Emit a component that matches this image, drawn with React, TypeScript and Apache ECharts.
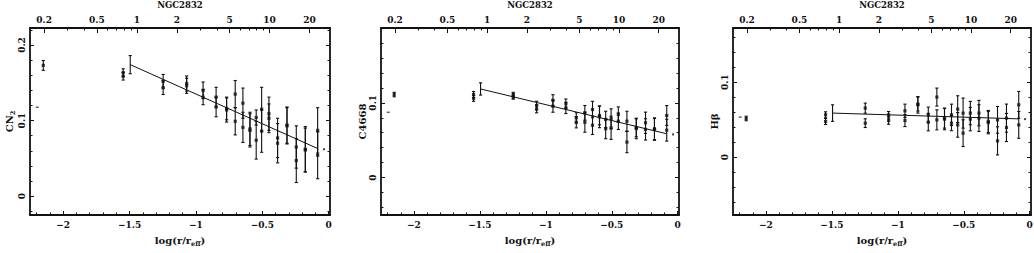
import React, { useEffect, useRef } from 'react';
import * as echarts from 'echarts';

// ---------------- data ----------------
const galaxyName = 'NGC2832';
const logReffArcsec = 1.445; // offset between bottom axis log(r/reff) and top axis log(r["])
const xRange = [-2.25, 0.01];

const bottomTicks = [-2, -1.5, -1, -0.5, 0];
const bottomMinorTicks = [-2.2, -2.1, -1.9, -1.8, -1.7, -1.6, -1.4, -1.3, -1.2, -1.1, -0.9, -0.8, -0.7, -0.6, -0.4, -0.3, -0.2, -0.1];
const topTickLabels = [0.2, 0.5, 1, 2, 5, 10, 20];
const topMinorTicks = [0.3, 0.4, 0.6, 0.7, 0.8, 0.9, 3, 4, 6, 7, 8, 9];

const radii = [-1.548, -1.247, -1.07, -0.946, -0.848, -0.769, -0.704, -0.646, -0.593, -0.546, -0.505, -0.45, -0.385, -0.314, -0.244, -0.176, -0.083];
const centreRadius = -2.15;
const apertureRadii = [-2.195, -0.035];
const fitRadii = [-1.495, -0.083];

const cn2A = [0.1635, 0.152, 0.149, 0.140, 0.131, 0.116, 0.135, 0.123, 0.089, 0.104, 0.115, 0.109, 0.077, 0.094, 0.065, 0.062, 0.087];
const cn2ErrA = [0.005, 0.009, 0.010, 0.011, 0.013, 0.015, 0.018, 0.020, 0.022, 0.010, 0.029, 0.022, 0.026, 0.024, 0.028, 0.030, 0.030];
const cn2B = [0.1586, 0.1435, 0.146, 0.131, 0.118, 0.114, 0.099, 0.091, 0.087, 0.074, 0.086, 0.103, 0.070, 0.093, 0.047, 0.061, 0.054];
const cn2ErrB = [0.005, 0.009, 0.010, 0.010, 0.013, 0.016, 0.018, 0.020, 0.022, 0.025, 0.028, 0.019, 0.026, 0.024, 0.029, 0.029, 0.031];
const cn2Centre = [0.173, 0.0065];
const cn2Aperture = [0.1176, 0.062];
const cn2Fit = [0.174, 0.063];
const cn2FitErr = 0.012;

const c4668A = [0.111, 0.1096, 0.0963, 0.1033, 0.0989, 0.080, 0.0866, 0.091, 0.083, 0.0777, 0.0786, 0.0843, 0.0754, 0.0666, 0.0733, 0.0653, 0.083];
const c4668ErrA = [0.004, 0.0044, 0.0058, 0.0075, 0.0062, 0.0067, 0.0098, 0.011, 0.0124, 0.011, 0.0133, 0.0102, 0.0133, 0.012, 0.0142, 0.0146, 0.0133];
const c4668B = [0.106, 0.1087, 0.0919, 0.0954, 0.0932, 0.074, 0.074, 0.070, 0.0813, 0.0653, 0.0666, 0.0754, 0.0475, 0.0657, 0.0644, 0.0644, 0.0634];
const c4668ErrB = [0.004, 0.0036, 0.0053, 0.008, 0.0075, 0.0075, 0.0133, 0.0124, 0.0146, 0.0133, 0.0155, 0.011, 0.0142, 0.0137, 0.0142, 0.0146, 0.0146];
const c4668Centre = [0.111, 0.003];
const c4668Aperture = [0.0874, 0.0577];
const c4668Fit = [0.1185, 0.0586];
const c4668FitErr = 0.0082;

const hbetaA = [0.0564, 0.0653, 0.0564, 0.0617, 0.0707, 0.0564, 0.080, 0.052, 0.0564, 0.064, 0.0587, 0.0587, 0.0587, 0.0475, 0.0497, 0.052, 0.0697];
const hbetaErrA = [0.004, 0.0067, 0.0044, 0.0089, 0.0093, 0.0102, 0.012, 0.0133, 0.0142, 0.0178, 0.02, 0.0156, 0.0169, 0.0147, 0.0178, 0.0187, 0.0178];
const hbetaB = [0.0475, 0.0453, 0.0488, 0.0488, 0.0697, 0.0467, 0.0497, 0.0507, 0.0453, 0.043, 0.032, 0.0507, 0.052, 0.0461, 0.0217, 0.0395, 0.043];
const hbetaErrB = [0.004, 0.0058, 0.005, 0.008, 0.011, 0.0116, 0.0133, 0.0142, 0.01, 0.0164, 0.0178, 0.0156, 0.0178, 0.015, 0.0187, 0.0187, 0.0178];
const hbetaCentre = [0.0515, 0.003];
const hbetaAperture = [0.0533, 0.0507];
const hbetaFit = [0.0587, 0.051];
const hbetaFitErr = 0.011;

// ---------------- layout / style ----------------
const ink = '#111111';
const serif = '"DejaVu Serif", "Liberation Serif", serif';
const tickFont = { fontFamily: serif, fontSize: 9, fontWeight: 'bold' as const, color: ink };

const panels = [
  { left: 30, width: 300, yMin: -0.025, yMax: 0.2225, yMajor: [0, 0.1, 0.2], yName: '{n|CN}{s|2}',
    a: cn2A, ea: cn2ErrA, b: cn2B, eb: cn2ErrB, centre: cn2Centre, aperture: cn2Aperture, fit: cn2Fit, fitErr: cn2FitErr },
  { left: 381, width: 298, yMin: -0.05, yMax: 0.2, yMajor: [0, 0.1], yName: '{n|C4668}',
    a: c4668A, ea: c4668ErrA, b: c4668B, eb: c4668ErrB, centre: c4668Centre, aperture: c4668Aperture, fit: c4668Fit, fitErr: c4668FitErr },
  { left: 733, width: 298, yMin: -0.077, yMax: 0.172, yMajor: [0, 0.1], yName: '{n|Hβ}',
    a: hbetaA, ea: hbetaErrA, b: hbetaB, eb: hbetaErrB, centre: hbetaCentre, aperture: hbetaAperture, fit: hbetaFit, fitErr: hbetaFitErr },
];
const gridTop = 28;
const gridHeight = 187;

function minorY(min: number, max: number, major: number[]) {
  const out: number[] = [];
  for (let k = Math.ceil(min / 0.02 - 1e-9); k * 0.02 <= max + 1e-9; k++) {
    const v = +(k * 0.02).toFixed(3);
    if (!major.some((m) => Math.abs(m - v) < 1e-6)) out.push(v);
  }
  return out;
}

const fmtBottom = (v: number) => (Math.abs(v) < 1e-9 ? '0' : v < 0 ? '\u2212' + String(+Math.abs(v).toFixed(2)) : String(v));
const fmtTop = (v: number) => String(+Math.pow(10, v).toPrecision(2));

function errRender(params: any, api: any) {
  const x = api.value(0);
  const y = api.value(1);
  const e = api.value(2);
  const t = api.coord([x, y + e]);
  const b = api.coord([x, y - e]);
  const cap = 1.6;
  const st = { stroke: ink, lineWidth: 1.1 };
  return {
    type: 'group',
    children: [
      { type: 'line', shape: { x1: t[0], y1: t[1], x2: b[0], y2: b[1] }, style: st },
      { type: 'line', shape: { x1: t[0] - cap, y1: t[1], x2: t[0] + cap, y2: t[1] }, style: st },
      { type: 'line', shape: { x1: b[0] - cap, y1: b[1], x2: b[0] + cap, y2: b[1] }, style: st },
    ],
  };
}

function buildOption() {
  const grid: any[] = [];
  const xAxis: any[] = [];
  const yAxis: any[] = [];
  const series: any[] = [];
  const graphic: any[] = [];

  panels.forEach((p) => {
    const gMain = grid.length;
    grid.push({ left: p.left, top: gridTop, width: p.width, height: gridHeight, containLabel: false, outerBoundsMode: 'none' });
    const gOver = grid.length;
    grid.push({ left: p.left, top: gridTop, width: p.width, height: gridHeight, containLabel: false, outerBoundsMode: 'none' });

    const line = { show: true, onZero: false, lineStyle: { color: ink, width: 1.8 } };
    const noLine = { show: false, onZero: false };
    const rich = {
      n: { fontFamily: serif, fontSize: 10, fontWeight: 'bold', color: ink },
      s: { fontFamily: serif, fontSize: 6.5, fontWeight: 'bold', color: ink, padding: [6, 0, 0, 0] },
    };

    const xb = xAxis.length;
    xAxis.push({
      type: 'value', gridIndex: gMain, position: 'bottom', min: xRange[0], max: xRange[1],
      name: '{n|log(r/r}{s|eff}{n|)}', nameLocation: 'middle', nameGap: 19,
      nameTextStyle: { rich },
      axisLine: line, splitLine: { show: false },
      axisTick: { show: true, inside: true, length: 4, customValues: bottomTicks, lineStyle: { color: ink, width: 1 } },
      axisLabel: { show: true, margin: 5, customValues: bottomTicks, formatter: fmtBottom, ...tickFont },
    });
    xAxis.push({
      type: 'value', gridIndex: gMain, position: 'top', min: xRange[0] + logReffArcsec, max: xRange[1] + logReffArcsec,
      axisLine: line, splitLine: { show: false },
      axisTick: { show: true, inside: true, length: 5, customValues: topTickLabels.map((v) => Math.log10(v)), lineStyle: { color: ink, width: 1 } },
      axisLabel: { show: true, margin: 4, customValues: topTickLabels.map((v) => Math.log10(v)), formatter: fmtTop, ...tickFont },
    });
    xAxis.push({
      type: 'value', gridIndex: gOver, position: 'bottom', min: xRange[0], max: xRange[1],
      axisLine: noLine, splitLine: { show: false }, axisLabel: { show: false },
      axisTick: { show: true, inside: true, length: 2.5, customValues: bottomMinorTicks, lineStyle: { color: ink, width: 1 } },
    });
    xAxis.push({
      type: 'value', gridIndex: gOver, position: 'top', min: xRange[0] + logReffArcsec, max: xRange[1] + logReffArcsec,
      axisLine: noLine, splitLine: { show: false }, axisLabel: { show: false },
      axisTick: { show: true, inside: true, length: 2.5, customValues: topMinorTicks.map((v) => Math.log10(v)), lineStyle: { color: ink, width: 1 } },
    });

    const yl = yAxis.length;
    yAxis.push({
      type: 'value', gridIndex: gMain, position: 'left', min: p.yMin, max: p.yMax,
      name: p.yName, nameLocation: 'middle', nameGap: 14,
      nameTextStyle: { rich },
      axisLine: line, splitLine: { show: false },
      axisTick: { show: true, inside: true, length: 4, customValues: p.yMajor, lineStyle: { color: ink, width: 1 } },
      axisLabel: { show: true, rotate: 90, margin: 4, customValues: p.yMajor, formatter: (v: number) => String(v), ...tickFont },
    });
    yAxis.push({
      type: 'value', gridIndex: gMain, position: 'right', min: p.yMin, max: p.yMax,
      axisLine: line, splitLine: { show: false }, axisLabel: { show: false },
      axisTick: { show: true, inside: true, length: 4, customValues: p.yMajor, lineStyle: { color: ink, width: 1 } },
    });
    const ym = minorY(p.yMin, p.yMax, p.yMajor);
    yAxis.push({
      type: 'value', gridIndex: gOver, position: 'left', min: p.yMin, max: p.yMax,
      axisLine: noLine, splitLine: { show: false }, axisLabel: { show: false },
      axisTick: { show: true, inside: true, length: 2.5, customValues: ym, lineStyle: { color: ink, width: 1 } },
    });
    yAxis.push({
      type: 'value', gridIndex: gOver, position: 'right', min: p.yMin, max: p.yMax,
      axisLine: noLine, splitLine: { show: false }, axisLabel: { show: false },
      axisTick: { show: true, inside: true, length: 2.5, customValues: ym, lineStyle: { color: ink, width: 1 } },
    });

    const errData: number[][] = [];
    const ptData: number[][] = [];
    radii.forEach((r, i) => {
      errData.push([r, p.a[i], p.ea[i]]);
      errData.push([r, p.b[i], p.eb[i]]);
      ptData.push([r, p.a[i]]);
      ptData.push([r, p.b[i]]);
    });
    errData.push([centreRadius, p.centre[0], p.centre[1]]);
    ptData.push([centreRadius, p.centre[0]]);
    errData.push([fitRadii[0], p.fit[0], p.fitErr]);

    const common = { xAxisIndex: xb, yAxisIndex: yl, silent: true };
    series.push({ type: 'custom', ...common, renderItem: errRender, encode: { x: 0, y: 1 }, data: errData, clip: true });
    series.push({ type: 'scatter', ...common, symbol: 'rect', symbolSize: 3.2, itemStyle: { color: ink }, data: ptData });
    series.push({
      type: 'line', ...common, showSymbol: false, symbol: 'none', lineStyle: { color: ink, width: 1 },
      data: fitRadii.map((r, i) => [r, p.fit[i]]),
    });
    series.push({ type: 'scatter', ...common, symbol: 'rect', symbolSize: [3, 1.2], itemStyle: { color: ink }, data: [[apertureRadii[0], p.aperture[0]]] });
    series.push({ type: 'scatter', ...common, symbol: 'rect', symbolSize: [2, 2], itemStyle: { color: ink }, data: [[apertureRadii[1], p.aperture[1]]] });

    graphic.push({
      type: 'text', x: p.left + p.width / 2, y: 5,
      style: { text: galaxyName, fontFamily: serif, fontSize: 8.5, fontWeight: 'bold', fill: ink, align: 'center', verticalAlign: 'middle', textAlign: 'center', textVerticalAlign: 'middle' },
    });
  });

  return { animation: false, backgroundColor: '#ffffff', grid, xAxis, yAxis, series, graphic };
}

export default function App() {
  const ref = useRef<HTMLDivElement>(null);
  useEffect(() => {
    if (!ref.current) return;
    const chart = echarts.init(ref.current, undefined, { renderer: 'svg' });
    chart.setOption(buildOption() as any);
    return () => chart.dispose();
  }, []);
  return <div ref={ref} style={{ position: 'fixed', left: 0, top: 0, width: 1034, height: 253, background: '#fff' }} />;
}
